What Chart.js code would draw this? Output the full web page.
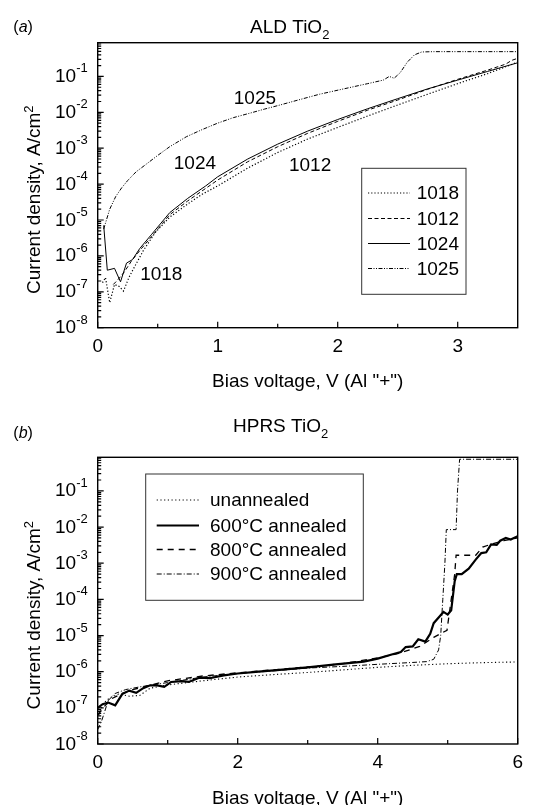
<!DOCTYPE html>
<html>
<head>
<meta charset="utf-8">
<script src="https://cdn.jsdelivr.net/npm/chart.js@4.4.1/dist/chart.umd.min.js"></script>
<style>
html, body { margin: 0; padding: 0; background: #fff; }
#wrap { position: relative; width: 551px; height: 805px; overflow: hidden; }
canvas { position: absolute; left: 0; }
#chartA { top: 0; }
#chartB { top: 400px; }
</style>
</head>
<body>
<div id="wrap">
  <canvas id="chartA" width="551" height="400"></canvas>
  <canvas id="chartB" width="551" height="405"></canvas>
</div>
<script>
// ---- panel (a): ALD TiO2 ----
const v1018 = [0.04, 0.065, 0.1, 0.14, 0.18, 0.215, 0.26, 0.3, 0.38, 0.48, 0.6, 0.75, 0.87, 1.0, 1.25, 1.5, 1.75, 2.0, 2.25, 2.5, 2.75, 3.0, 3.25, 3.5];
const j1018 = [1.8e-7, 2.5e-7, 5.0e-8, 1.6e-7, 1.4e-7, 1.05e-7, 2.5e-7, 4.5e-7, 1.4e-6, 4.5e-6, 1.2e-5, 2.8e-5, 5.2e-5, 8.9e-5, 2.8e-4, 7.6e-4, 1.8e-3, 3.8e-3, 7.9e-3, 1.6e-2, 3.2e-2, 6.3e-2, 0.12, 0.25];

const v1012 = [0.13, 0.17, 0.22, 0.28, 0.35, 0.45, 0.6, 0.75, 0.9, 1.0, 1.25, 1.5, 1.75, 2.0, 2.25, 2.5, 2.75, 3.0, 3.25, 3.4, 3.45, 3.5];
const j1012 = [1.6e-7, 2.2e-7, 3.5e-7, 7.1e-7, 1.4e-6, 3.5e-6, 1.4e-5, 3.4e-5, 7.6e-5, 1.3e-4, 4.2e-4, 1.1e-3, 2.6e-3, 5.6e-3, 1.15e-2, 2.2e-2, 4.4e-2, 8.3e-2, 0.15, 0.22, 0.28, 0.32];

const v1024 = [0.05, 0.08, 0.14, 0.19, 0.24, 0.29, 0.35, 0.45, 0.6, 0.75, 0.9, 1.0, 1.25, 1.5, 1.75, 2.0, 2.25, 2.5, 2.75, 3.0, 3.25, 3.5];
const j1024 = [7.1e-6, 4.0e-7, 4.5e-7, 1.9e-7, 6.3e-7, 7.9e-7, 1.6e-6, 4.0e-6, 1.6e-5, 4.0e-5, 8.9e-5, 1.6e-4, 5.0e-4, 1.3e-3, 3.0e-3, 6.3e-3, 1.26e-2, 2.4e-2, 4.5e-2, 7.9e-2, 0.138, 0.24];

const v1025 = [0.05, 0.1, 0.15, 0.2, 0.25, 0.32, 0.4, 0.5, 0.6, 0.74, 0.87, 1.0, 1.13, 1.26, 1.39, 1.52, 1.67, 1.85, 2.05, 2.25, 2.38, 2.43, 2.47, 2.52, 2.58, 2.64, 2.7, 2.8, 3.0, 3.5];
const j1025 = [5.6e-6, 2.0e-5, 4.5e-5, 7.9e-5, 1.26e-4, 2.2e-4, 3.5e-4, 6.3e-4, 1.1e-3, 2.1e-3, 3.3e-3, 5.0e-3, 7.1e-3, 9.3e-3, 1.23e-2, 1.6e-2, 2.2e-2, 3.2e-2, 4.5e-2, 6.3e-2, 7.9e-2, 0.1, 8.9e-2, 0.126, 0.25, 0.4, 0.48, 0.49, 0.49, 0.49];

// ---- panel (b): HPRS TiO2 ----
const vUnann = [0, 0.05, 0.12, 0.2, 0.3, 0.45, 0.6, 0.75, 1.0, 1.5, 2.0, 2.5, 3.0, 3.5, 4.0, 4.5, 5.0, 5.5, 6.0];
const jUnann = [5.0e-8, 1.0e-7, 1.6e-7, 2.0e-7, 2.4e-7, 2.1e-7, 2.2e-7, 3.5e-7, 4.3e-7, 5.6e-7, 7.1e-7, 8.3e-7, 9.5e-7, 1.12e-6, 1.32e-6, 1.5e-6, 1.66e-6, 1.78e-6, 1.86e-6];

const v600 = [0, 0.07, 0.15, 0.25, 0.35, 0.45, 0.55, 0.65, 0.75, 0.85, 0.95, 1.05, 1.2, 1.3, 1.45, 1.6, 1.8, 2.0, 2.3, 2.6, 3.0, 3.4, 3.8, 4.0, 4.2, 4.33, 4.4, 4.5, 4.58, 4.68, 4.75, 4.8, 4.88, 4.94, 5.0, 5.05, 5.1, 5.13, 5.2, 5.3, 5.4, 5.48, 5.55, 5.62, 5.7, 5.75, 5.83, 5.9, 6.0];
const j600 = [1.0e-7, 1.26e-7, 1.4e-7, 1.17e-7, 2.4e-7, 3.0e-7, 2.6e-7, 3.5e-7, 4.2e-7, 4.2e-7, 3.8e-7, 5.2e-7, 5.5e-7, 5.2e-7, 6.8e-7, 6.6e-7, 7.9e-7, 8.9e-7, 1.0e-6, 1.12e-6, 1.32e-6, 1.6e-6, 1.9e-6, 2.3e-6, 3.0e-6, 3.5e-6, 4.8e-6, 5.0e-6, 7.9e-6, 6.8e-6, 1.12e-5, 2.2e-5, 3.3e-5, 4.5e-5, 3.8e-5, 5.0e-5, 3.2e-4, 5.0e-4, 5.0e-4, 7.1e-4, 1.26e-3, 1.9e-3, 2.0e-3, 3.3e-3, 3.2e-3, 4.2e-3, 5.0e-3, 4.5e-3, 5.6e-3];

const v800 = [0, 0.1, 0.2, 0.35, 0.5, 0.7, 1.0, 1.5, 2.0, 2.5, 3.0, 3.5, 4.0, 4.3, 4.6, 4.8, 4.99, 5.1, 5.12, 5.4, 5.5, 5.65, 5.8, 6.0];
const j800 = [6.3e-8, 1.12e-7, 1.8e-7, 2.5e-7, 3.2e-7, 4.0e-7, 5.6e-7, 7.6e-7, 9.3e-7, 1.12e-6, 1.35e-6, 1.66e-6, 2.4e-6, 3.2e-6, 5.0e-6, 8.9e-6, 1.4e-5, 5.0e-4, 1.66e-3, 1.66e-3, 2.8e-3, 3.5e-3, 4.2e-3, 5.0e-3];

const v900 = [0, 0.05, 0.1, 0.15, 0.25, 0.4, 0.6, 1.0, 1.5, 2.0, 2.5, 3.0, 3.5, 4.0, 4.5, 4.7, 4.8, 4.87, 4.9, 4.93, 4.96, 4.98, 5.12, 5.14, 5.17, 6.0];
const j900 = [2.5e-8, 4.0e-8, 7.9e-8, 1.6e-7, 2.5e-7, 3.2e-7, 3.8e-7, 5.0e-7, 7.1e-7, 8.9e-7, 1.05e-6, 1.26e-6, 1.4e-6, 1.6e-6, 1.8e-6, 1.9e-6, 2.2e-6, 4.0e-6, 1.0e-5, 1.0e-4, 1.0e-3, 8.5e-3, 8.5e-3, 0.1, 0.75, 0.75];

// tick labels
const xTicksA = [0, 1, 2, 3];
const xMinorA = [0.5, 1.5, 2.5];
const xTicksB = [0, 2, 4, 6];
const xMinorB = [1, 3, 5];
const yDecades = [-8, -7, -6, -5, -4, -3, -2, -1];

// curve labels of panel (a), in data units
const notesA = [
    { text: '1025', v: 1.31, j: 2.45e-2 },
    { text: '1024', v: 0.81, j: 3.6e-4 },
    { text: '1012', v: 1.77, j: 3.2e-4 },
    { text: '1018', v: 0.53, j: 3.0e-7 }
];

const FONT = '"Liberation Sans", Arial, Helvetica, sans-serif';

function pts(xs, ys){
    return xs.map((x, i) => ({ x: x, y: ys[i] }));
}

function ds(label, xs, ys, width, dash){
    return {
        label: label,
        data: pts(xs, ys),
        borderColor: '#000',
        borderWidth: width,
        borderDash: dash,
        fill: false,
        pointRadius: 0,
        tension: 0
    };
}

function decorPlugin(cfg){
    return {
        id: 'decor',
        afterDraw(chart){
            const ctx = chart.ctx;
            const a = chart.chartArea;
            const xs = chart.scales.x;
            const ys = chart.scales.y;
            ctx.save();
            ctx.strokeStyle = '#000';
            ctx.fillStyle = '#000';

            // frame
            ctx.lineWidth = 1.4;
            ctx.strokeRect(a.left, a.top, a.right - a.left, a.bottom - a.top);

            // x ticks, pointing inward
            ctx.lineWidth = 1.2;
            ctx.beginPath();
            cfg.xMajor.forEach(v => {
                const px = xs.getPixelForValue(v);
                ctx.moveTo(px, a.bottom); ctx.lineTo(px, a.bottom - 6);
            });
            cfg.xMinor.forEach(v => {
                const px = xs.getPixelForValue(v);
                ctx.moveTo(px, a.bottom); ctx.lineTo(px, a.bottom - 4);
            });
            // y log ticks on the left axis
            for (let d = -8; d <= 0; d++){
                for (let m = 1; m <= 9; m++){
                    const val = m * Math.pow(10, d);
                    if (val < ys.min * 0.999 || val > ys.max) continue;
                    const py = ys.getPixelForValue(val);
                    const len = m === 1 ? 6 : 3.5;
                    ctx.moveTo(a.left, py); ctx.lineTo(a.left + len, py);
                }
            }
            ctx.stroke();

            // x tick labels
            ctx.font = '19px ' + FONT;
            ctx.textAlign = 'center';
            ctx.textBaseline = 'alphabetic';
            cfg.xMajor.forEach(v => {
                ctx.fillText(String(v), xs.getPixelForValue(v), a.bottom + 24);
            });

            // y tick labels 10^n
            ctx.textAlign = 'left';
            yDecades.forEach(d => {
                const py = ys.getPixelForValue(Math.pow(10, d));
                const exp = '-' + Math.abs(d);
                ctx.font = '19px ' + FONT;
                const w1 = ctx.measureText('10').width;
                ctx.font = '13px ' + FONT;
                const w2 = ctx.measureText(exp).width;
                const right = a.left - 10;
                ctx.font = '19px ' + FONT;
                ctx.fillText('10', right - w1 - w2, py + 5.5);
                ctx.font = '13px ' + FONT;
                ctx.fillText(exp, right - w2, py - 4);
            });

            // axis titles
            ctx.font = '19px ' + FONT;
            ctx.textAlign = 'center';
            ctx.fillText('Bias voltage, V (Al "+")', (a.left + a.right) / 2, a.bottom + 59.5);
            ctx.save();
            ctx.translate(40, (a.top + a.bottom) / 2 + 14.5);
            ctx.rotate(-Math.PI / 2);
            ctx.textAlign = 'left';
            const yt = 'Current density, A/cm';
            const wy1 = ctx.measureText(yt).width;
            ctx.font = '13px ' + FONT;
            const wy2 = ctx.measureText('2').width;
            ctx.font = '19px ' + FONT;
            ctx.fillText(yt, -(wy1 + wy2) / 2, 0);
            ctx.font = '13px ' + FONT;
            ctx.fillText('2', -(wy1 + wy2) / 2 + wy1, -7.5);
            ctx.restore();

            // panel title with subscript
            ctx.textAlign = 'left';
            ctx.font = '19px ' + FONT;
            ctx.fillText(cfg.title, cfg.titleX, cfg.titleY);
            const tw = ctx.measureText(cfg.title).width;
            ctx.font = '13px ' + FONT;
            ctx.fillText('2', cfg.titleX + tw, cfg.titleY + 6);

            // (a) / (b) tag
            ctx.font = '16px ' + FONT;
            ctx.fillText('(', cfg.tagX, cfg.tagY);
            let tx = cfg.tagX + ctx.measureText('(').width;
            ctx.font = 'italic 16px ' + FONT;
            ctx.fillText(cfg.tag, tx, cfg.tagY);
            tx += ctx.measureText(cfg.tag).width;
            ctx.font = '16px ' + FONT;
            ctx.fillText(')', tx, cfg.tagY);

            // legend
            const L = cfg.legend;
            ctx.lineWidth = 1;
            ctx.strokeStyle = '#333';
            ctx.strokeRect(L.box[0], L.box[1], L.box[2] - L.box[0], L.box[3] - L.box[1]);
            chart.data.datasets.forEach((d, i) => {
                const y = L.ys[i];
                ctx.save();
                ctx.strokeStyle = '#000';
                ctx.lineWidth = d.borderWidth;
                ctx.setLineDash(d.borderDash || []);
                ctx.beginPath();
                ctx.moveTo(L.x0, y); ctx.lineTo(L.x1, y);
                ctx.stroke();
                ctx.restore();
                ctx.font = '19px ' + FONT;
                ctx.textAlign = 'left';
                ctx.textBaseline = 'middle';
                ctx.fillText(d.label, L.tx, y + 1);
            });

            // curve labels
            ctx.textAlign = 'center';
            ctx.textBaseline = 'middle';
            ctx.font = '19px ' + FONT;
            (cfg.notes || []).forEach(n => {
                ctx.fillText(n.text, xs.getPixelForValue(n.v), ys.getPixelForValue(n.j));
            });
            ctx.restore();
        }
    };
}

function makeChart(id, datasets, xMax, yMax, area, cfg){
    const canvas = document.getElementById(id);
    return new Chart(canvas, {
        type: 'line',
        data: { datasets: datasets },
        options: {
            responsive: false,
            animation: false,
            devicePixelRatio: 1,
            layout: { padding: { top: area.top, right: canvas.width - area.right, left: 0, bottom: 0 } },
            plugins: { legend: { display: false }, tooltip: { enabled: false }, title: { display: false } },
            scales: {
                x: {
                    type: 'linear', min: 0, max: xMax,
                    ticks: { display: false }, grid: { display: false }, border: { display: false },
                    afterFit: s => { s.height = canvas.height - area.bottom; }
                },
                y: {
                    type: 'logarithmic', min: 1e-8, max: yMax,
                    ticks: { display: false }, grid: { display: false }, border: { display: false },
                    afterFit: s => { s.width = area.left; }
                }
            }
        },
        plugins: [decorPlugin(cfg)]
    });
}

makeChart('chartA', [
    ds('1018', v1018, j1018, 1.2, [1.2, 2]),
    ds('1012', v1012, j1012, 1, [4, 2.5]),
    ds('1024', v1024, j1024, 1, []),
    ds('1025', v1025, j1025, 1, [4, 1.5, 1, 1.5, 1, 1.5])
], 3.5, 0.87, { left: 97.7, top: 42.7, right: 517.7, bottom: 327.7 }, {
    xMajor: xTicksA, xMinor: xMinorA,
    title: 'ALD TiO', titleX: 250, titleY: 33.3,
    tag: 'a', tagX: 13.3, tagY: 31.6,
    legend: { box: [361.7, 168.3, 466, 294.3], x0: 368, x1: 410, tx: 416.7, ys: [193, 218.5, 243.5, 268.5] },
    notes: notesA
});

makeChart('chartB', [
    ds('unannealed', vUnann, jUnann, 1.1, [1.2, 2.5]),
    ds('600°C annealed', v600, j600, 2.2, []),
    ds('800°C annealed', v800, j800, 1.3, [6, 5]),
    ds('900°C annealed', v900, j900, 1, [5, 2, 1, 2])
], 6, 0.85, { left: 97.7, top: 57.3, right: 517.7, bottom: 344 }, {
    xMajor: xTicksB, xMinor: xMinorB,
    title: 'HPRS TiO', titleX: 233, titleY: 31.7,
    tag: 'b', tagX: 13.3, tagY: 38.3,
    legend: { box: [145.7, 74, 363.3, 200.3], x0: 156.7, x1: 199, tx: 210, ys: [100, 125.5, 149.5, 174] },
    notes: []
});
</script>
</body>
</html>
